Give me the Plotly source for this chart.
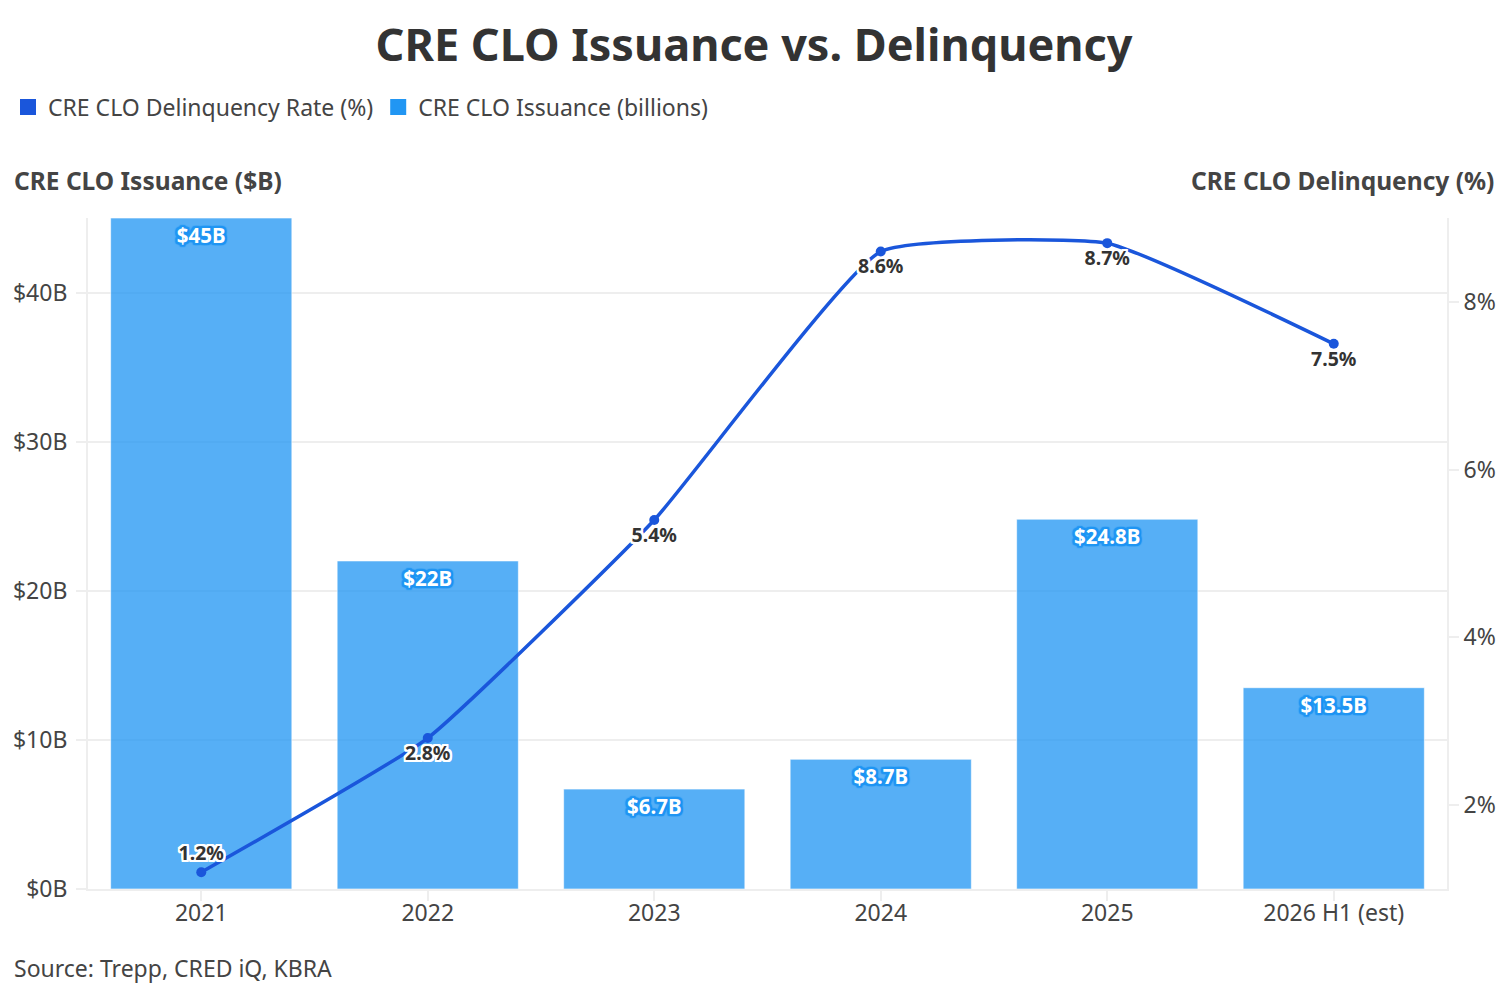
import plotly.graph_objects as go

categories = ["2021", "2022", "2023", "2024", "2025", "2026 H1 (est)"]
issuance_b = [45, 22, 6.7, 8.7, 24.8, 13.5]
issuance_labels = ["$45B", "$22B", "$6.7B", "$8.7B", "$24.8B", "$13.5B"]
delinquency_pct = [1.2, 2.8, 5.4, 8.6, 8.7, 7.5]
delinquency_labels = ["1.2%", "2.8%", "5.4%", "8.6%", "8.7%", "7.5%"]
left_ticks = [0, 10, 20, 30, 40]
left_tick_text = ["$0B", "$10B", "$20B", "$30B", "$40B"]
right_ticks = [2, 4, 6, 8]
right_tick_text = ["2%", "4%", "6%", "8%"]

FONT = "Noto Sans"
LINE_C = "#1A56DB"
BAR_C = "rgba(33,150,243,0.76)"
LEG_BAR_C = "#2196F3"
TXT = "#333333"
TICK = "#444444"
GRID = "#EEEEEE"

white_outline = ", ".join(f"{dx}px {dy}px 0 #fff" for dx in (-2, -1, 0, 1, 2) for dy in (-2, -1, 0, 1, 2))
blue_outline = ", ".join(f"{dx}px {dy}px 1px #2196F3" for dx in (-2, -1, 0, 1, 2) for dy in (-2, -1, 0, 1, 2))

label_positions = ["top center"] + ["bottom center"] * (len(categories) - 1)

fig = go.Figure()

fig.add_trace(go.Bar(
    x=categories, y=issuance_b, name="CRE CLO Issuance (billions)",
    marker=dict(color=BAR_C, line=dict(color="rgba(255,255,255,0.6)", width=1)),
    text=issuance_labels, textposition="inside", insidetextanchor="end",
    textangle=0,
    textfont=dict(family=FONT, size=20.5, color="white", weight="bold", shadow=blue_outline),
    showlegend=False, yaxis="y", cliponaxis=False,
))

fig.add_trace(go.Scatter(
    x=categories, y=delinquency_pct, name="CRE CLO Delinquency Rate (%)",
    mode="lines+markers+text", line=dict(color=LINE_C, width=3.5, shape="spline", smoothing=0.4),
    marker=dict(color=LINE_C, size=10),
    text=delinquency_labels, textposition=label_positions,
    textfont=dict(family=FONT, size=19.5, color=TXT, weight="bold", shadow=white_outline),
    showlegend=False, yaxis="y2", cliponaxis=False,
))

# legend entries
fig.add_trace(go.Scatter(x=[None], y=[None], mode="markers", name="CRE CLO Delinquency Rate (%)",
                         marker=dict(symbol="square", size=16, color=LINE_C), showlegend=True))
fig.add_trace(go.Scatter(x=[None], y=[None], mode="markers", name="CRE CLO Issuance (billions)",
                         marker=dict(symbol="square", size=16, color=LEG_BAR_C), showlegend=True))

fig.update_layout(
    width=1511, height=1000,
    margin=dict(l=80, r=72, t=210, b=119),
    paper_bgcolor="white", plot_bgcolor="white",
    font=dict(family=FONT, color=TXT),
    bargap=0.2, barmode="overlay",
    title=dict(text="<b>CRE CLO Issuance vs. Delinquency</b>", x=0.4937, xanchor="center",
               y=0.963, yanchor="middle", font=dict(family=FONT, size=45, color=TXT)),
    legend=dict(orientation="h", xref="container", yref="container", x=0, y=0.901,
                xanchor="left", yanchor="middle", font=dict(family=FONT, size=23, color="#444"),
                itemwidth=30, tracegroupgap=0, bgcolor="rgba(0,0,0,0)"),
    xaxis=dict(type="category", categoryorder="array", categoryarray=categories,
               showline=True, linecolor=GRID, linewidth=2, ticks="outside", tickcolor=GRID,
               ticklen=10, tickwidth=2, showgrid=False, automargin=False, ticklabelstandoff=-8,
               tickfont=dict(family=FONT, size=23, color=TICK)),
    yaxis=dict(range=[0, 45], tickvals=left_ticks, ticktext=left_tick_text,
               showline=True, linecolor=GRID, linewidth=2, ticks="outside", tickcolor=GRID,
               ticklen=10, tickwidth=2, showgrid=True, gridcolor=GRID, gridwidth=2,
               automargin=False, ticklabelstandoff=4,
               zeroline=False, tickfont=dict(family=FONT, size=23, color=TICK)),
    yaxis2=dict(range=[1, 9], tickvals=right_ticks, ticktext=right_tick_text, overlaying="y",
                side="right", showline=True, linecolor=GRID, linewidth=2, ticks="outside",
                tickcolor=GRID, ticklen=10, tickwidth=2, showgrid=False, zeroline=False,
                automargin=False,
                tickfont=dict(family=FONT, size=23, color=TICK)),
)

fig.add_annotation(text="<b>CRE CLO Issuance ($B)</b>", xref="paper", yref="paper",
                   x=-0.0559, y=1.0566, xanchor="left", yanchor="middle", showarrow=False,
                   font=dict(family=FONT, size=24.5, color="#444"))
fig.add_annotation(text="<b>CRE CLO Delinquency (%)</b>", xref="paper", yref="paper",
                   x=1.036, y=1.0566, xanchor="right", yanchor="middle", showarrow=False,
                   font=dict(family=FONT, size=24.5, color="#444"))
fig.add_annotation(text="Source: Trepp, CRED iQ, KBRA", xref="paper", yref="paper",
                   x=-0.0559, y=-0.1177, xanchor="left", yanchor="middle", showarrow=False,
                   font=dict(family=FONT, size=23, color="#444"))

fig.write_html("out.html")
